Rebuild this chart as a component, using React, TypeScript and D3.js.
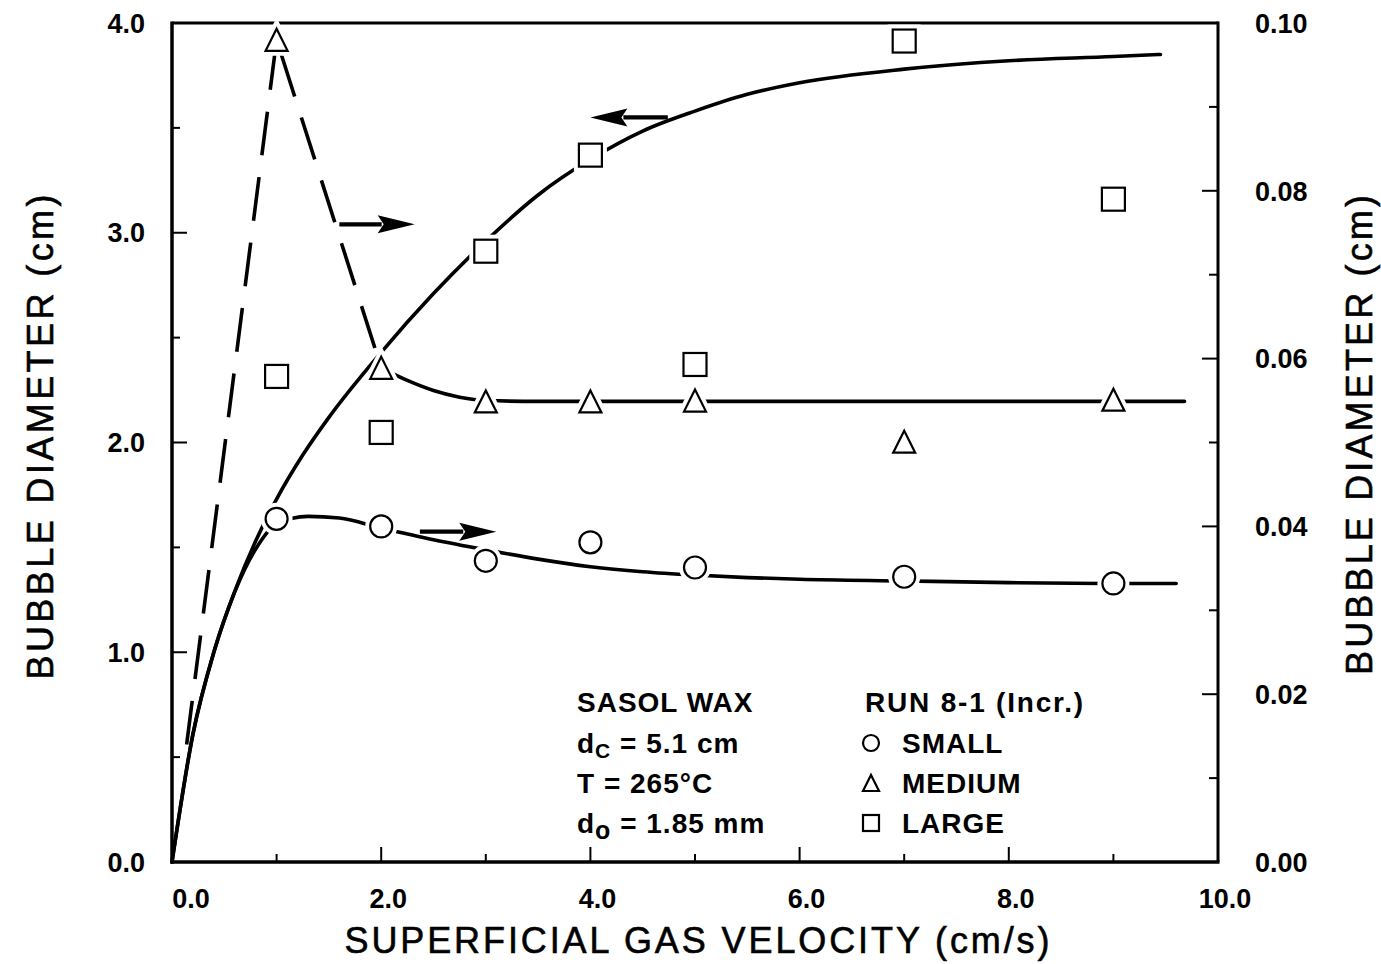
import React from 'react';
import * as d3 from 'd3';

const W = 1381;
const H = 964;
const FONT = '"Liberation Sans", Arial, Helvetica, sans-serif';

// ---- measured data (superficial gas velocity, cm/s) ----
const velocities = [1, 2, 3, 4, 5, 7, 9];
// SMALL bubbles — right axis (cm)
const smallDiam = [0.0409, 0.04, 0.0359, 0.0381, 0.0351, 0.034, 0.0332];
// MEDIUM bubbles — right axis (cm)
const mediumDiam = [0.098, 0.0589, 0.0549, 0.0549, 0.055, 0.0501, 0.0551];
// LARGE bubbles — left axis (cm)
const largeDiam = [2.315, 2.048, 2.912, 3.37, 2.372, 3.914, 3.16];

// ---- fitted curves as drawn ----
const largeFitX = [0, 0.2, 0.4, 0.6, 0.8, 1.0, 1.25, 1.5, 2.0, 2.5, 3.0, 3.5, 4.0, 4.5, 5.0, 5.5, 6.0, 7.0, 8.0, 9.0, 9.45];
const largeFitY = [0, 0.61, 1.0, 1.29, 1.53, 1.73, 1.94, 2.12, 2.43, 2.71, 2.96, 3.18, 3.35, 3.485, 3.58, 3.66, 3.715, 3.78, 3.82, 3.84, 3.85];

const smallFitX = [0, 0.2, 0.4, 0.6, 0.8, 1.0, 1.3, 1.6, 2.0, 2.5, 3.0, 3.5, 4.0, 4.5, 5.0, 5.5, 6.0, 7.0, 8.0, 9.0, 9.6];
const smallFitY = [0, 0.0152, 0.025, 0.0322, 0.0373, 0.0403, 0.0412, 0.041, 0.0398, 0.0384, 0.0372, 0.0361, 0.0352, 0.0346, 0.0342, 0.0339, 0.0337, 0.0335, 0.0333, 0.0332, 0.0332];

const mediumDashX = [0.14, 1.0, 2.0];
const mediumDashY = [0.014, 0.098, 0.0589];
const mediumSolidX = [2.0, 2.25, 2.5, 2.75, 3.0, 3.5, 9.68];
const mediumSolidY = [0.0589, 0.0574, 0.0562, 0.0554, 0.055, 0.0549, 0.0549];

// ---- axis ticks ----
const xMajor = [0, 2, 4, 6, 8, 10];
const xMinor = [1, 3, 5, 7, 9];
const leftMajor = [0, 1, 2, 3, 4];
const leftMinor = [0.5, 1.5, 2.5, 3.5];
const rightMajor = [0, 0.02, 0.04, 0.06, 0.08, 0.1];
const rightMinor = [0.01, 0.03, 0.05, 0.07, 0.09];

// ---- arrows (data units: x from -> to, y on left axis) ----
const arrowFrom = [1.6, 4.74, 2.37];
const arrowTo = [2.32, 4.0, 3.1];
const arrowY = [3.04, 3.55, 1.575];

const zip = (a: number[], b: number[]) => a.map((v, i) => [v, b[i]] as [number, number]);

function Marker({ shape, cx, cy, size, halo }: { shape: string; cx: number; cy: number; size: number; halo?: boolean }) {
  const s = size / 2;
  const props = halo
    ? { fill: 'white', stroke: 'white', strokeWidth: 10 }
    : { fill: 'white', stroke: 'black', strokeWidth: 2.2 };
  if (shape === 'circle') return <circle cx={cx} cy={cy} r={s} {...props} />;
  if (shape === 'triangle')
    return <path d={`M${cx},${cy - s}L${cx + s},${cy + s}L${cx - s},${cy + s}Z`} strokeLinejoin="miter" {...props} />;
  return <rect x={cx - s} y={cy - s} width={size} height={size} {...props} />;
}

export default function App() {
  const x = d3.scaleLinear().domain([0, 10]).range([172, 1218]);
  const yL = d3.scaleLinear().domain([0, 4]).range([862, 23]);
  const yR = d3.scaleLinear().domain([0, 0.1]).range([862, 23]);

  const lineL = d3.line<[number, number]>().x((d) => x(d[0])).y((d) => yL(d[1])).curve(d3.curveMonotoneX);
  const lineR = d3.line<[number, number]>().x((d) => x(d[0])).y((d) => yR(d[1])).curve(d3.curveMonotoneX);
  const lineRLin = d3.line<[number, number]>().x((d) => x(d[0])).y((d) => yR(d[1])).curve(d3.curveLinear);

  const series = [
    { shape: 'circle', ys: smallDiam, scale: yR },
    { shape: 'triangle', ys: mediumDiam, scale: yR },
    { shape: 'square', ys: largeDiam, scale: yL },
  ];

  const x0 = x(0), x1 = x(10), yb = yL(0), yt = yL(4);
  const textStyle: React.CSSProperties = { whiteSpace: 'pre' };
  const titleProps = { fontSize: 36, stroke: 'black', strokeWidth: 0.6, fill: 'black' };

  return (
    <svg width={W} height={H} style={{ position: 'absolute', left: 0, top: 0, background: 'white' }} fontFamily={FONT}>
      <rect width={W} height={H} fill="white" />

      {/* frame */}
      <line x1={x0} y1={yt} x2={x1} y2={yt} stroke="black" strokeWidth={3} />
      <line x1={x1} y1={yt - 1.5} x2={x1} y2={yb} stroke="black" strokeWidth={3} />
      <line x1={x0} y1={yt - 1.5} x2={x0} y2={yb + 1.5} stroke="black" strokeWidth={3.5} />
      <line x1={x0 - 1.5} y1={yb} x2={x1 + 1.5} y2={yb} stroke="black" strokeWidth={3.5} />

      {/* ticks */}
      {xMajor.map((t) => (
        <line key={'xM' + t} x1={x(t)} x2={x(t)} y1={yb} y2={yb - 15} stroke="black" strokeWidth={2} />
      ))}
      {xMinor.map((t) => (
        <line key={'xm' + t} x1={x(t)} x2={x(t)} y1={yb} y2={yb - 8} stroke="black" strokeWidth={2} />
      ))}
      {leftMajor.map((t) => (
        <line key={'lM' + t} x1={x0} x2={x0 + 15} y1={yL(t)} y2={yL(t)} stroke="black" strokeWidth={2} />
      ))}
      {leftMinor.map((t) => (
        <line key={'lm' + t} x1={x0} x2={x0 + 8} y1={yL(t)} y2={yL(t)} stroke="black" strokeWidth={2} />
      ))}
      {rightMajor.map((t) => (
        <line key={'rM' + t} x1={x1} x2={x1 - 16} y1={yR(t)} y2={yR(t)} stroke="black" strokeWidth={2} />
      ))}
      {rightMinor.map((t) => (
        <line key={'rm' + t} x1={x1} x2={x1 - 9} y1={yR(t)} y2={yR(t)} stroke="black" strokeWidth={2} />
      ))}

      {/* tick labels */}
      {xMajor.map((t) => (
        <text key={'xl' + t} x={x(t) + (t === 0 ? 19 : 7)} y={yb + 46} textAnchor="middle" fontSize={27} fontWeight="bold">
          {t.toFixed(1)}
        </text>
      ))}
      {leftMajor.map((t) => (
        <text key={'ll' + t} x={145} y={yL(t)} dy="0.36em" textAnchor="end" fontSize={27} fontWeight="bold">
          {t.toFixed(1)}
        </text>
      ))}
      {rightMajor.map((t) => (
        <text key={'rl' + t} x={1255} y={yR(t)} dy="0.36em" textAnchor="start" fontSize={27} fontWeight="bold">
          {t.toFixed(2)}
        </text>
      ))}

      {/* axis titles */}
      <text x={697} y={953} textAnchor="middle" textLength={705} lengthAdjust="spacing" style={textStyle} {...titleProps}>
        SUPERFICIAL GAS VELOCITY (cm/s)
      </text>
      <text transform="translate(53,437) rotate(-90)" textAnchor="middle" textLength={485} lengthAdjust="spacing" {...titleProps}>
        BUBBLE DIAMETER (cm)
      </text>
      <text transform="translate(1372,435) rotate(-90)" textAnchor="middle" textLength={480} lengthAdjust="spacing" {...titleProps}>
        BUBBLE DIAMETER (cm)
      </text>

      {/* fitted curves */}
      <path d={lineL(zip(largeFitX, largeFitY)) || ''} fill="none" stroke="black" strokeWidth={3.6} strokeLinecap="round" />
      <path d={lineR(zip(smallFitX, smallFitY)) || ''} fill="none" stroke="black" strokeWidth={3.6} strokeLinecap="round" />
      <path d={lineRLin(zip(mediumDashX, mediumDashY)) || ''} fill="none" stroke="black" strokeWidth={3.6} strokeDasharray="44 22" strokeLinejoin="round" />
      <path d={lineR(zip(mediumSolidX, mediumSolidY)) || ''} fill="none" stroke="black" strokeWidth={3.6} strokeLinecap="round" />

      {/* arrows */}
      {arrowFrom.map((f, i) => {
        const xa = x(f), xb = x(arrowTo[i]), yy = yL(arrowY[i]);
        const dir = xb > xa ? 1 : -1;
        const hl = 37, hw = 9;
        const xBase = xb - dir * hl;
        return (
          <g key={'ar' + i}>
            <line x1={xa} y1={yy} x2={xBase + dir * 4} y2={yy} stroke="black" strokeWidth={4.2} />
            <path d={`M${xb},${yy}L${xBase},${yy - hw}L${xBase + dir * 6},${yy}L${xBase},${yy + hw}Z`} fill="black" />
          </g>
        );
      })}

      {/* marker halos (gaps in lines) */}
      {series.map((s) =>
        velocities.map((v, i) => (
          <Marker key={'h' + s.shape + i} shape={s.shape} cx={x(v)} cy={s.scale(s.ys[i])} size={s.shape === 'square' ? 23 : 22} halo />
        ))
      )}
      {/* markers */}
      {series.map((s) =>
        velocities.map((v, i) => (
          <Marker key={'m' + s.shape + i} shape={s.shape} cx={x(v)} cy={s.scale(s.ys[i])} size={s.shape === 'square' ? 23 : 22} />
        ))
      )}

      {/* annotation block */}
      <g fontSize={28} fontWeight="bold" letterSpacing={1}>
        <text x={577} y={712} style={textStyle}>SASOL WAX</text>
        <text x={577} y={753} style={textStyle}>
          <tspan>d</tspan>
          <tspan dy={5} fontSize={21}>C</tspan>
          <tspan dy={-5}> = 5.1 cm</tspan>
        </text>
        <text x={577} y={793} style={textStyle}>T = 265°C</text>
        <text x={577} y={833} style={textStyle}>
          <tspan>d</tspan>
          <tspan dy={6} fontSize={25}>o</tspan>
          <tspan dy={-6}> = 1.85 mm</tspan>
        </text>

        <text x={865} y={712} style={textStyle} letterSpacing={1.8}>RUN 8-1 (Incr.)</text>
        <text x={902} y={753} style={textStyle}>SMALL</text>
        <text x={902} y={793} style={textStyle}>MEDIUM</text>
        <text x={902} y={833} style={textStyle}>LARGE</text>
      </g>
      <Marker shape="circle" cx={871} cy={743} size={16} />
      <Marker shape="triangle" cx={871} cy={783} size={16} />
      <Marker shape="square" cx={871} cy={823} size={16} />
    </svg>
  );
}
